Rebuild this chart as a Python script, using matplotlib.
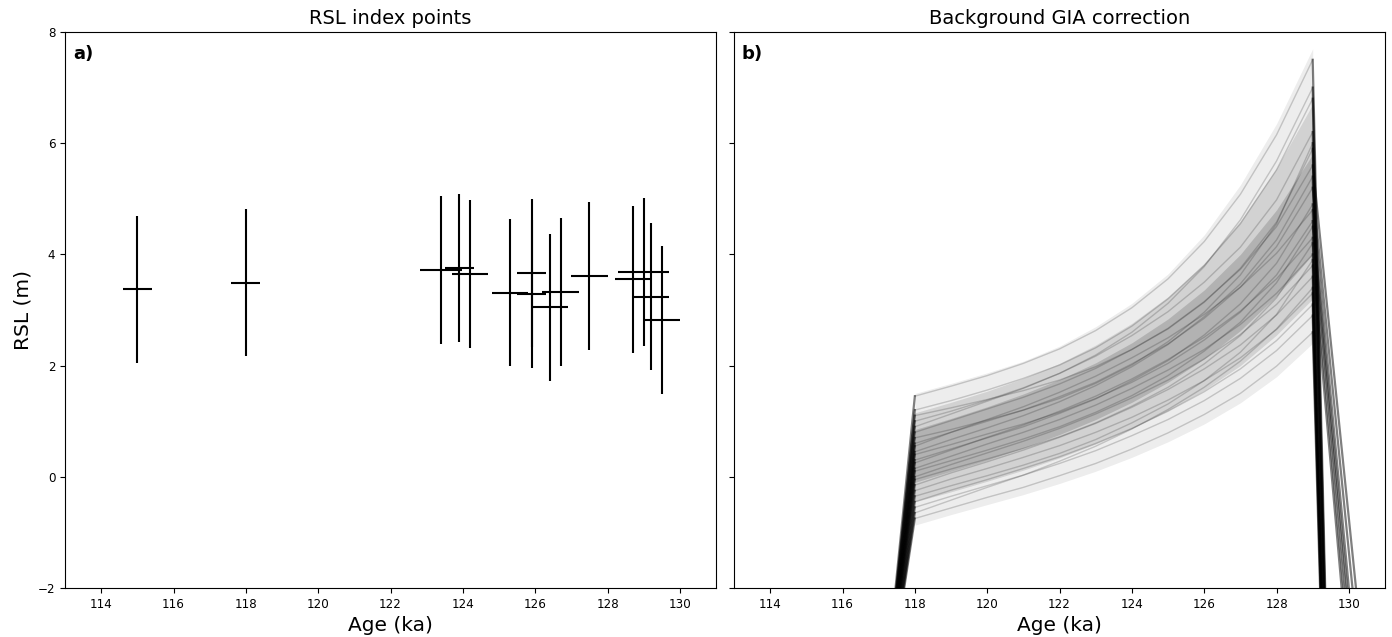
import matplotlib.pyplot as plt
import numpy as np

# RSL index points (panel a)
age = [115.0, 118.0, 123.4, 123.9, 124.2, 125.3, 125.9, 125.9, 126.4, 126.7, 127.5, 128.7, 129.0, 129.2, 129.5]
rsl = [3.37, 3.49, 3.72, 3.75, 3.65, 3.31, 3.67, 3.28, 3.05, 3.33, 3.61, 3.55, 3.69, 3.24, 2.82]
age_err = [0.4, 0.4, 0.58, 0.4, 0.5, 0.5, 0.4, 0.4, 0.5, 0.5, 0.5, 0.5, 0.7, 0.5, 0.5]
rsl_err = [1.32, 1.32, 1.33, 1.33, 1.33, 1.32, 1.33, 1.33, 1.32, 1.33, 1.33, 1.32, 1.33, 1.32, 1.33]

# GIA ensemble (panel b), values at 118..129 ka
gia_age = [118, 119, 120, 121, 122, 123, 124, 125, 126, 127, 128, 129]
env_max = [1.50, 1.68, 1.87, 2.08, 2.35, 2.70, 3.12, 3.65, 4.35, 5.25, 6.35, 7.70]
env_min = [-0.87, -0.68, -0.50, -0.32, -0.12, 0.10, 0.35, 0.63, 0.95, 1.33, 1.80, 2.40]
env_p90 = [1.15, 1.34, 1.54, 1.77, 2.04, 2.37, 2.76, 3.24, 3.84, 4.60, 5.55, 6.70]
env_p10 = [-0.45, -0.27, -0.08, 0.12, 0.34, 0.59, 0.87, 1.19, 1.56, 2.00, 2.55, 3.20]
env_p75 = [0.85, 1.05, 1.26, 1.49, 1.75, 2.05, 2.41, 2.84, 3.36, 4.00, 4.80, 5.80]
env_p25 = [-0.10, 0.10, 0.30, 0.52, 0.76, 1.03, 1.34, 1.70, 2.12, 2.63, 3.25, 4.00]

gia_curves = [
    [1.45, 1.63, 1.82, 2.04, 2.30, 2.63, 3.04, 3.56, 4.23, 5.08, 6.15, 7.50],
    [1.20, 1.37, 1.56, 1.77, 2.01, 2.32, 2.71, 3.20, 3.80, 4.55, 5.52, 6.80],
    [1.00, 1.18, 1.38, 1.60, 1.86, 2.19, 2.60, 3.12, 3.78, 4.62, 5.68, 7.00],
    [0.90, 1.13, 1.36, 1.59, 1.86, 2.17, 2.54, 2.97, 3.50, 4.13, 4.98, 6.20],
    [0.80, 1.01, 1.22, 1.43, 1.67, 1.95, 2.29, 2.67, 3.15, 3.73, 4.50, 5.60],
    [0.70, 0.85, 1.02, 1.20, 1.41, 1.68, 2.01, 2.43, 2.96, 3.63, 4.55, 6.00],
    [0.60, 0.80, 1.00, 1.20, 1.44, 1.70, 2.03, 2.39, 2.85, 3.41, 4.14, 5.20],
    [0.55, 0.80, 1.03, 1.26, 1.52, 1.81, 2.14, 2.50, 2.92, 3.41, 4.02, 4.80],
    [0.45, 0.67, 0.88, 1.10, 1.35, 1.64, 1.98, 2.38, 2.88, 3.47, 4.26, 5.40],
    [0.40, 0.58, 0.77, 0.95, 1.16, 1.41, 1.70, 2.04, 2.46, 2.96, 3.63, 4.60],
    [0.30, 0.50, 0.70, 0.90, 1.14, 1.40, 1.73, 2.09, 2.55, 3.11, 3.84, 4.90],
    [0.25, 0.48, 0.71, 0.93, 1.18, 1.45, 1.76, 2.11, 2.51, 2.98, 3.56, 4.30],
    [0.15, 0.37, 0.59, 0.80, 1.03, 1.29, 1.59, 1.92, 2.29, 2.74, 3.30, 4.00],
    [0.10, 0.29, 0.48, 0.68, 0.90, 1.16, 1.46, 1.82, 2.26, 2.78, 3.49, 4.50],
    [0.00, 0.22, 0.43, 0.64, 0.87, 1.13, 1.42, 1.74, 2.12, 2.56, 3.10, 3.80],
    [-0.05, 0.14, 0.32, 0.51, 0.72, 0.97, 1.27, 1.61, 2.03, 2.54, 3.22, 4.20],
    [-0.15, 0.07, 0.27, 0.48, 0.71, 0.96, 1.25, 1.57, 1.94, 2.37, 2.91, 3.60],
    [-0.25, -0.04, 0.15, 0.35, 0.56, 0.80, 1.07, 1.38, 1.73, 2.14, 2.65, 3.30],
    [-0.35, -0.16, 0.02, 0.21, 0.42, 0.67, 0.97, 1.31, 1.73, 2.24, 2.92, 3.90],
    [-0.45, -0.24, -0.05, 0.15, 0.36, 0.60, 0.87, 1.18, 1.53, 1.94, 2.45, 3.10],
    [-0.55, -0.35, -0.16, 0.03, 0.24, 0.47, 0.74, 1.03, 1.37, 1.77, 2.27, 2.90],
    [-0.65, -0.42, -0.19, 0.03, 0.28, 0.55, 0.86, 1.21, 1.61, 2.08, 2.66, 3.40],
    [-0.75, -0.56, -0.37, -0.19, 0.02, 0.24, 0.50, 0.79, 1.12, 1.50, 1.99, 2.60],
    [1.10, 1.24, 1.39, 1.55, 1.74, 1.98, 2.29, 2.66, 3.14, 3.75, 4.58, 5.90],
]
# where each curve drops away outside the interglacial window
start_age, start_rsl = 117.0, -5.0
end_age = [130, 130, 130, 130, 131, 130, 131, 130, 130, 131, 131, 130,
           130, 131, 130, 131, 130, 130, 131, 130, 130, 130, 130, 130]
end_rsl = [-20, -20, -20, -20, -7.1, -20, -7.9, -20, -20, -9.3, -8.9, -20,
           -20, -9.9, -20, -10.4, -20, -20, -10.85, -20, -20, -20, -20, -20]

fig, (ax1, ax2) = plt.subplots(1, 2, figsize=(13.92, 6.37), dpi=100, sharey=True)
plt.subplots_adjust(left=0.0467, right=0.995, top=0.9498, bottom=0.0769, wspace=0.0276)

ax1.errorbar(age, rsl, xerr=age_err, yerr=rsl_err, fmt='none', ecolor='black', elinewidth=1.5, capsize=0)
ax1.set_title("RSL index points", fontsize=14)
ax1.set_ylabel("RSL (m)", fontsize=14.5)
ax1.text(0.012, 0.977, "a)", transform=ax1.transAxes, fontsize=13, fontweight='bold', va='top')

ax2.fill_between(gia_age, env_min, env_max, color='black', alpha=0.07, lw=0)
ax2.fill_between(gia_age, env_p10, env_p90, color='black', alpha=0.11, lw=0)
ax2.fill_between(gia_age, env_p25, env_p75, color='black', alpha=0.15, lw=0)
for i, curve in enumerate(gia_curves):
    ax2.plot(gia_age, curve, color='black', alpha=0.18, lw=1.0)
    # steep drops either side of the window
    ax2.plot([start_age, gia_age[0]], [start_rsl, curve[0]], color='black', alpha=0.5, lw=1.6)
    ax2.plot([gia_age[-1], end_age[i]], [curve[-1], end_rsl[i]], color='black', alpha=0.5, lw=1.6)
ax2.set_title("Background GIA correction", fontsize=14)
ax2.text(0.012, 0.977, "b)", transform=ax2.transAxes, fontsize=13, fontweight='bold', va='top')

for ax in (ax1, ax2):
    ax.set_xlim(113, 131)
    ax.set_ylim(-2, 8)
    ax.set_xticks(np.arange(114, 131, 2))
    ax.set_yticks(np.arange(-2, 9, 2))
    ax.tick_params(labelsize=8.6)
    ax.set_xlabel("Age (ka)", fontsize=14.5)

fig.savefig("out.png", dpi=100)
